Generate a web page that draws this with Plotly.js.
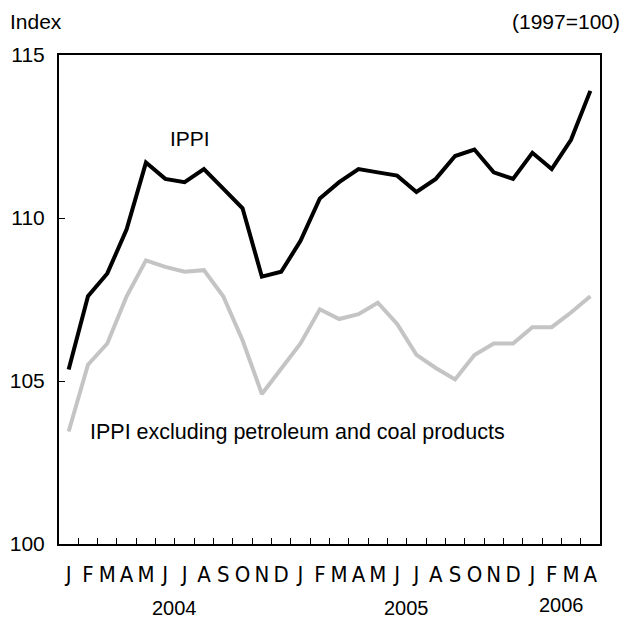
<!DOCTYPE html>
<html>
<head>
<meta charset="utf-8">
<script src="https://cdn.plot.ly/plotly-3.0.1.min.js"></script>
<style>html,body{margin:0;padding:0;background:#fff;}#chart{width:622px;height:619px;}</style>
</head>
<body>
<div id="chart"></div>
<script>
var monthLabels = ["J","F","M","A","M","J","J","A","S","O","N","D","J","F","M","A","M","J","J","A","S","O","N","D","J","F","M","A"];
var monthIndex = [0,1,2,3,4,5,6,7,8,9,10,11,12,13,14,15,16,17,18,19,20,21,22,23,24,25,26,27];
var ippi = [105.35,107.6,108.3,109.65,111.7,111.2,111.1,111.5,110.9,110.3,108.2,108.35,109.3,110.6,111.1,111.5,111.4,111.3,110.8,111.2,111.9,112.1,111.4,111.2,112.0,111.5,112.4,113.9];
var ippiExPetro = [103.45,105.5,106.15,107.6,108.7,108.5,108.35,108.4,107.6,106.25,104.6,105.4,106.15,107.2,106.9,107.05,107.4,106.75,105.8,105.4,105.05,105.8,106.15,106.15,106.65,106.65,107.1,107.6];
var yearLabels = ["2004","2005","2006"];
var yearCenters = [5.5,17.5,25.5];
var yTicks = [100,105,110,115];

var boundaries = [];
for (var i = 0; i < monthIndex.length - 1; i++) boundaries.push(monthIndex[i] + 0.5);

var font = "Liberation Sans, Arial, Helvetica, sans-serif";
var narrow = "Liberation Sans Narrow, DejaVu Sans Condensed, Liberation Sans, sans-serif";

var traces = [
  {x: monthIndex, y: ippiExPetro, type: "scatter", mode: "lines", line: {color: "#c4c4c4", width: 4}, hoverinfo: "skip"},
  {x: monthIndex, y: ippi, type: "scatter", mode: "lines", line: {color: "#000000", width: 4}, hoverinfo: "skip"},
  {x: [], y: [], xaxis: "x2", yaxis: "y", type: "scatter", mode: "lines", hoverinfo: "skip"}
];

var annotations = [
  {text: "Index", xref: "paper", yref: "paper", x: -0.094, y: (544 - 22) / 489, xanchor: "left", yanchor: "middle", showarrow: false, font: {family: font, size: 21, color: "#000"}},
  {text: "(1997=100)", xref: "paper", yref: "paper", x: 1.04, y: (544 - 22) / 489, xanchor: "right", yanchor: "middle", showarrow: false, font: {family: font, size: 21, color: "#000"}},
  {text: "IPPI", xref: "x", yref: "y", x: 6.3, y: 112.45, xanchor: "center", yanchor: "middle", showarrow: false, font: {family: font, size: 21, color: "#000"}},
  {text: "IPPI excluding petroleum and coal products", xref: "x", yref: "y", x: 1.0, y: 103.45, xanchor: "left", yanchor: "middle", showarrow: false, font: {family: font, size: 21.5, color: "#000"}}
];
for (var k = 0; k < yearLabels.length; k++) {
  annotations.push({text: yearLabels[k], xref: "x", yref: "paper", x: yearCenters[k], y: (544 - (k === 2 ? 605 : 608)) / 489, xanchor: "center", yanchor: "middle", showarrow: false, font: {family: font, size: 20, color: "#000"}});
}

var layout = {
  width: 622, height: 619,
  margin: {l: 59, r: 22, t: 55, b: 75, pad: 0},
  paper_bgcolor: "#fff", plot_bgcolor: "#fff",
  showlegend: false,
  xaxis: {
    range: [-0.5, 27.5], showgrid: false, zeroline: false,
    showline: true, linecolor: "#000", linewidth: 2, mirror: true,
    tickmode: "array", tickvals: monthIndex, ticktext: monthLabels, ticks: "",
    ticklabelstandoff: 10,
    tickfont: {family: narrow, size: 22, color: "#000"}
  },
  xaxis2: {
    range: [-0.5, 27.5], overlaying: "x", anchor: "y", side: "bottom",
    showgrid: false, zeroline: false, showline: false,
    tickmode: "array", tickvals: boundaries, ticks: "inside", ticklen: 6, tickwidth: 1, tickcolor: "#000",
    showticklabels: false
  },
  yaxis: {
    range: [100, 115], showgrid: false, zeroline: false,
    showline: true, linecolor: "#000", linewidth: 2, mirror: true,
    tickmode: "array", tickvals: yTicks, ticks: "inside", ticklen: 6, tickwidth: 1, tickcolor: "#000",
    ticklabelstandoff: 8,
    tickfont: {family: font, size: 21, color: "#000"}
  },
  annotations: annotations
};

Plotly.newPlot("chart", traces, layout, {staticPlot: true, displayModeBar: false});
</script>
</body>
</html>
